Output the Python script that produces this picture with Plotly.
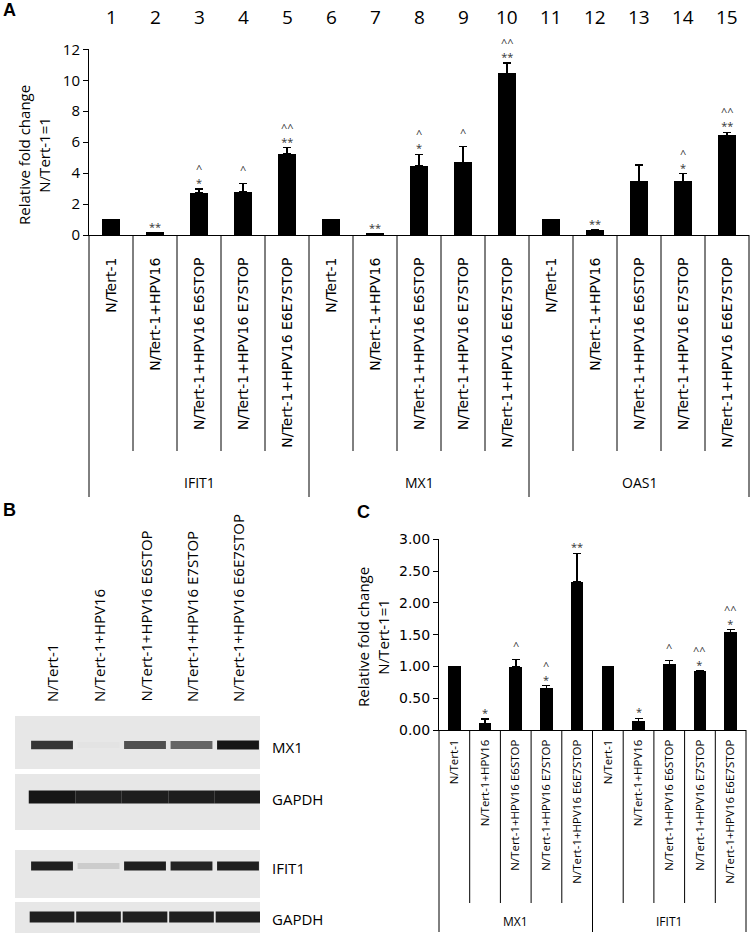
import plotly.graph_objects as go

W, H = 750, 935

# ---------------- data ----------------
conditions = ["N/Tert-1", "N/Tert-1+HPV16", "N/Tert-1+HPV16 E6STOP",
              "N/Tert-1+HPV16 E7STOP", "N/Tert-1+HPV16 E6E7STOP"]
A_genes = ["IFIT1", "MX1", "OAS1"]
A_numbers = [str(i) for i in range(1, 16)]
A_vals = [1.0, 0.15, 2.70, 2.77, 5.24, 1.0, 0.06, 4.46, 4.68, 10.45, 1.0, 0.32, 3.47, 3.47, 6.44]
A_err = [0, 0, 0.26, 0.56, 0.41, 0, 0, 0.75, 1.05, 0.65, 0, 0, 1.05, 0.50, 0.20]
A_stars = ["", "**", "*", "", "**", "", "**", "*", "", "**", "", "**", "", "*", "**"]
A_carets = ["", "", "^", "^", "^^", "", "", "^", "^", "^^", "", "", "", "^", "^^"]

C_genes = ["MX1", "IFIT1"]
C_vals = [1.0, 0.105, 0.99, 0.65, 2.33, 1.0, 0.136, 1.03, 0.93, 1.53]
C_err = [0, 0.065, 0.12, 0.05, 0.45, 0, 0.045, 0.06, 0, 0.05]
C_stars = ["", "*", "", "*", "**", "", "*", "", "*", "*"]
C_carets = ["", "", "^", "^", "", "", "", "^", "^^", "^^"]

B_blots = ["MX1", "GAPDH", "IFIT1", "GAPDH"]
B_intensity = [
    [0.85, 0.01, 0.72, 0.62, 1.0],
    [1.0, 0.95, 0.96, 0.96, 0.97],
    [0.95, 0.12, 0.96, 0.93, 0.96],
    [0.95, 0.95, 0.95, 0.95, 0.95],
]

# ---------------- helpers ----------------
def py(p):
    return 1 - p / H

def pxl(p):
    return p / W

A_dom = [pxl(89), pxl(749)]
A_rng = [-0.5, 14.5]
C_dom = [pxl(439), pxl(746)]
C_rng = [-0.5, 9.5]

def xpaper(v, dom, rng):
    return dom[0] + (v - rng[0]) / (rng[1] - rng[0]) * (dom[1] - dom[0])

A_labels = conditions * 3
C_labels = conditions * 2
nA = len(A_vals)
nC = len(C_vals)

fig = go.Figure()

# ---------------- Panel A ----------------
fig.add_trace(go.Bar(
    x=list(range(nA)), y=A_vals, width=0.43, marker=dict(color="black", line=dict(width=0)),
    error_y=dict(type="data", symmetric=False, array=A_err, arrayminus=[0] * nA,
                 color="black", thickness=1.5, width=4),
    xaxis="x", yaxis="y", showlegend=False, hoverinfo="skip"))

# ---------------- Panel C ----------------
fig.add_trace(go.Bar(
    x=list(range(nC)), y=C_vals, width=0.41, marker=dict(color="black", line=dict(width=0)),
    error_y=dict(type="data", symmetric=False, array=C_err, arrayminus=[0] * nC,
                 color="black", thickness=1.5, width=4),
    xaxis="x2", yaxis="y2", showlegend=False, hoverinfo="skip"))

# ---------------- Panel B (blot) ----------------
B_rng = [0.204, 5.473]
strip_y = [(716, 769), (774, 830), (850, 898), (902, 933)]
band_y = [745, 797, 866, 917]
band_t = [9, 13, 9, 11]
band_half = [0.45, 0.5, 0.45, 0.48]
shapes = []
for r, (y0, y1) in enumerate(strip_y):
    shapes.append(dict(type="rect", xref="x3", yref="y3", x0=B_rng[0], x1=B_rng[1],
                       y0=y0, y1=y1, fillcolor="#e7e7e7", line=dict(width=0), layer="below"))
for r, row in enumerate(B_intensity):
    for lane, inten in enumerate(row):
        g = int(round(229 - inten * (229 - 22)))
        col = f"rgb({g},{g},{g})"
        c = lane + 1
        fig.add_trace(go.Scatter(
            x=[c - band_half[r], c + band_half[r]], y=[band_y[r], band_y[r]],
            mode="lines", line=dict(color=col, width=band_t[r] * (0.65 + 0.35 * inten)),
            xaxis="x3", yaxis="y3", showlegend=False, hoverinfo="skip"))

annotations = []
for r, name in enumerate(B_blots):
    annotations.append(dict(text=name, xref="paper", yref="paper", x=pxl(270), y=py(band_y[r] + 2),
                            xanchor="left", yanchor="middle", showarrow=False,
                            font=dict(family="Open Sans", size=15, color="black")))
for i, lab in enumerate(conditions):
    annotations.append(dict(text=lab, xref="x3", yref="paper", x=i + 1, y=py(704),
                            xanchor="center", yanchor="bottom", textangle=-90, showarrow=False,
                            font=dict(family="Open Sans", size=15, color="black")))

# ---------------- separators ----------------
def seps(n, dom, rng, y_top, y_inner, y_outer, group_size):
    for k in range(n + 1):
        v = k - 0.5
        yb = y_outer if k % group_size == 0 else y_inner
        xp = xpaper(v, dom, rng)
        shapes.append(dict(type="line", xref="paper", yref="paper", x0=xp, x1=xp,
                           y0=py(y_top), y1=py(yb), line=dict(color="black", width=1)))

seps(nA, A_dom, A_rng, 235, 451, 497, 5)
seps(nC, C_dom, C_rng, 730, 903, 932, 5)

# group labels
for g, name in enumerate(A_genes):
    annotations.append(dict(text=name, xref="x", yref="paper", x=g * 5 + 2, y=py(482),
                            xanchor="center", yanchor="middle", showarrow=False,
                            font=dict(family="Open Sans", size=14, color="black")))
for g, name in enumerate(C_genes):
    annotations.append(dict(text=name, xref="x2", yref="paper", x=g * 5 + 2, y=py(921),
                            xanchor="center", yanchor="middle", showarrow=False,
                            font=dict(family="Open Sans", size=12, color="black")))

# numbers on top of A
for i, num in enumerate(A_numbers):
    annotations.append(dict(text=num, xref="x", yref="paper", x=i, y=py(17),
                            xanchor="center", yanchor="middle", showarrow=False,
                            font=dict(family="Open Sans", size=19, color="black")))

# significance marks (caret line above star line in one text block)
def add_marks(vals, errs, stars, carets, xr, yr, fsize):
    for i in range(len(vals)):
        base = vals[i] + errs[i]
        lines = [t for t in (carets[i], stars[i]) if t]
        if not lines:
            continue
        shift = -2 if stars[i] else 5
        annotations.append(dict(text="<br>".join(lines), xref=xr, yref=yr, x=i, y=base,
                                xanchor="center", yanchor="bottom", yshift=shift, showarrow=False,
                                borderpad=0,
                                font=dict(family="Open Sans", size=fsize, color="#333")))

add_marks(A_vals, A_err, A_stars, A_carets, "x", "y", 11)
add_marks(C_vals, C_err, C_stars, C_carets, "x2", "y2", 11)

# axis titles
annotations.append(dict(text="Relative fold change<br>N/Tert-1=1", xref="paper", yref="paper",
                        x=pxl(34), y=py(155), xanchor="center", yanchor="middle", textangle=-90,
                        showarrow=False, font=dict(family="Open Sans", size=15, color="black")))
annotations.append(dict(text="Relative fold change<br>N/Tert-1=1", xref="paper", yref="paper",
                        x=pxl(373), y=py(637), xanchor="center", yanchor="middle", textangle=-90,
                        showarrow=False, font=dict(family="Open Sans", size=15, color="black")))

# panel letters
for letter, xx, yy in [("A", 9, 10), ("B", 9, 510), ("C", 363, 512)]:
    annotations.append(dict(text=f"<b>{letter}</b>", xref="paper", yref="paper", x=pxl(xx), y=py(yy),
                            xanchor="center", yanchor="middle", showarrow=False,
                            font=dict(family="Liberation Sans", size=18, color="black")))

common_ax = dict(automargin=False, showgrid=False, zeroline=False)

fig.update_layout(
    template="none",
    width=W, height=H, margin=dict(l=0, r=0, t=0, b=0, autoexpand=False),
    paper_bgcolor="white", plot_bgcolor="white", showlegend=False,
    font=dict(family="Open Sans", color="black"),
    shapes=shapes, annotations=annotations, bargap=0,
    xaxis=dict(domain=A_dom, range=A_rng, tickvals=list(range(nA)), ticktext=A_labels,
               tickangle=-90, ticks="", showline=True, linecolor="black", linewidth=1,
               ticklabelstandoff=16, anchor="y",
               tickfont=dict(family="DejaVu Sans", size=14, color="black"), **common_ax),
    yaxis=dict(domain=[py(235), py(49.3)], range=[0, 12], dtick=2, ticks="outside", ticklen=5,
               tickcolor="black", showline=True, linecolor="black", linewidth=1, anchor="x",
               tickfont=dict(family="Open Sans", size=15, color="black"), **common_ax),
    xaxis2=dict(domain=C_dom, range=C_rng, tickvals=list(range(nC)), ticktext=C_labels,
                tickangle=-90, ticks="", showline=True, linecolor="black", linewidth=1,
                ticklabelstandoff=4, anchor="y2",
                tickfont=dict(family="Open Sans", size=11.5, color="black"), **common_ax),
    yaxis2=dict(domain=[py(730), py(539.3)], range=[0, 3], dtick=0.5, tickformat=".2f",
                ticks="outside", ticklen=5, tickcolor="black", showline=True, linecolor="black",
                linewidth=1, anchor="x2",
                tickfont=dict(family="DejaVu Sans", size=14, color="black"), **common_ax),
    xaxis3=dict(domain=[pxl(15), pxl(260)], range=B_rng, visible=False, anchor="y3", **common_ax),
    yaxis3=dict(domain=[py(933), py(716)], range=[933, 716], visible=False, anchor="x3", **common_ax),
)

fig.write_html("out.html", config={"displayModeBar": False},
               post_script="document.body.style.margin='0px';document.body.style.overflow='hidden';")
